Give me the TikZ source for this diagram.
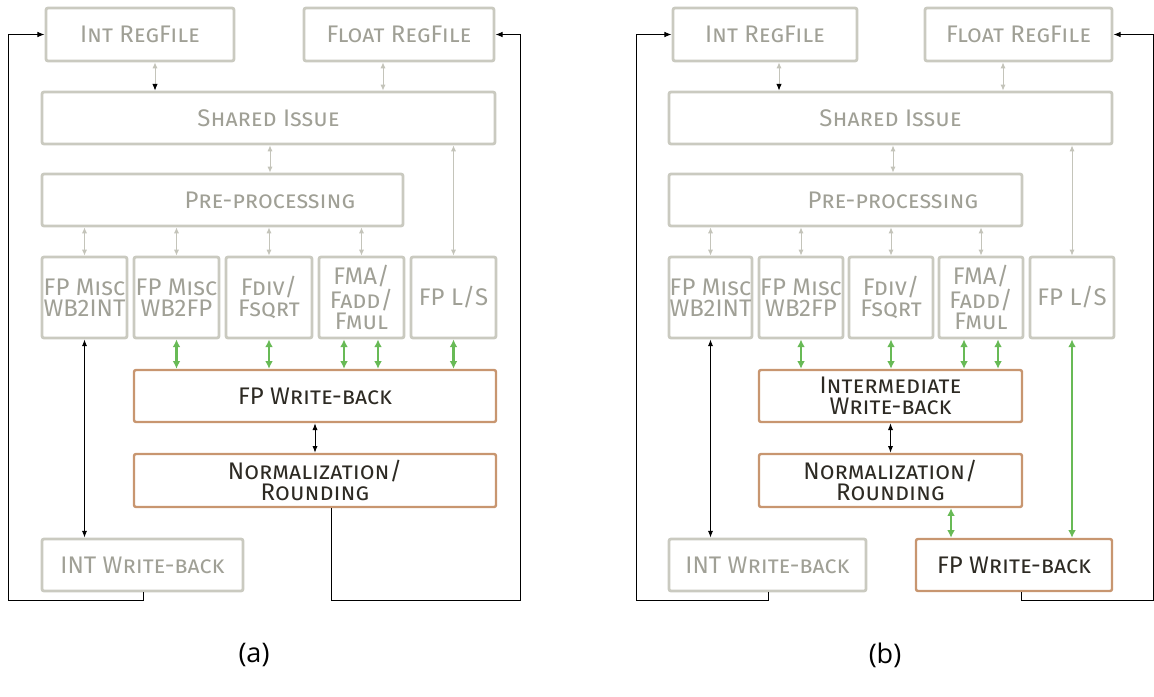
\documentclass[tikz,border=0pt]{standalone}
\usepackage{fontspec}
\setmainfont{Fira Sans}
\newfontfamily\capfont{Open Sans}
\usetikzlibrary{arrows.meta}

\definecolor{boxgray}{RGB}{202,202,192}
\definecolor{txtgray}{RGB}{160,160,150}
\definecolor{arrgray}{RGB}{196,196,186}
\definecolor{wbbrown}{RGB}{200,150,112}
\definecolor{txtdark}{RGB}{45,42,35}
\definecolor{wbgreen}{RGB}{104,186,86}

\tikzset{
  unitfont/.style={font=\fontsize{12}{10.3}\selectfont\scshape},
  gbox/.style={draw=boxgray, line width=1.4pt, rounded corners=1pt, inner sep=0pt,
    align=center, text=txtgray, unitfont},
  wbox/.style={draw=wbbrown, line width=1.2pt, rounded corners=1pt, inner sep=0pt,
    align=center, text=txtdark, unitfont},
  gtext/.style={text=txtgray, unitfont, inner sep=0pt},
  garr/.style={draw=arrgray, line width=0.5pt, {Latex[length=3pt,width=2.6pt]}-{Latex[length=3pt,width=2.6pt]}},
  karr/.style={draw=black, line width=0.5pt, {Latex[length=3.4pt,width=2.6pt]}-{Latex[length=3.4pt,width=2.6pt]}},
  grarr/.style={draw=wbgreen, line width=1.1pt, {Latex[length=3.8pt,width=3.8pt]}-{Latex[length=3.8pt,width=3.8pt]}},
  loopline/.style={draw=black, line width=0.5pt, -{Latex[length=3.6pt,width=2.8pt]}},
  caption/.style={font=\capfont\fontsize{13.5}{15}\selectfont, inner sep=0pt}
}

% \mkbox[extra]{style}{name}{x1}{y1}{x2}{y2}{text}  (pixel units, y downwards)
\newcommand\mkbox[8][]{%
  \node[#2,#1,minimum width={(#6-#4)*0.5pt},minimum height={(#7-#5)*0.5pt}]
    (#3) at ({(#4+#6)/2},{(#5+#7)/2}) {#8};}

\begin{document}
\begin{tikzpicture}[x=0.5pt,y=-0.5pt]
\useasboundingbox (0,0) rectangle (1154,696);

% ---------------- (a) ----------------
\mkbox{gbox}{irA}{46}{8}{234}{61}{Int RegFile}
\mkbox{gbox}{frA}{304}{8}{494}{61}{Float RegFile}
\mkbox{gbox}{siA}{42}{92}{495}{144}{Shared Issue}
\mkbox{gbox}{ppA}{42}{174}{403}{226}{}
\node[gtext] (ppAt) at (270,200) {Pre-processing};
\mkbox{gbox}{uaA}{42}{257}{127}{338}{FP Misc\\WB2INT}
\mkbox{gbox}{ubA}{134}{257}{219}{338}{FP Misc\\WB2FP}
\mkbox{gbox}{ucA}{226}{257}{312}{338}{Fdiv/\\Fsqrt}
\mkbox{gbox}{udA}{319}{257}{404}{338}{FMA/\\Fadd/\\Fmul}
\mkbox{gbox}{ueA}{411}{257}{496}{338}{FP L/S}
\mkbox{wbox}{fwA}{134}{370}{496}{422}{FP Write-back}
\mkbox{wbox}{nrA}{134}{454}{496}{507}{Normalization/\\Rounding}
\mkbox{gbox}{iwA}{42}{539}{243}{591}{INT Write-back}

\coordinate (xA1) at (155,0);
\coordinate (xA2) at (383,0);
\coordinate (xA3) at (270,0);
\coordinate (xA4) at (344,0);
\coordinate (xA5) at (378,0);
\coordinate (xA6) at (143,0);
\coordinate (xA7) at (331,0);
\coordinate (cA1) at (8,600);
\coordinate (cA2) at (520,600);

\draw[garr, {Latex[length=3pt,width=2.6pt]}-{Latex[length=3.4pt,width=2.8pt,color=black]}]
  (irA.south -| xA1) -- (siA.north -| xA1);
\draw[garr] (frA.south -| xA2) -- (siA.north -| xA2);
\draw[garr] (siA.south -| xA3) -- (ppA.north -| xA3);
\draw[garr] (siA.south -| ueA) -- (ueA.north);
\foreach \u in {uaA,ubA,ucA,udA} \draw[garr] (ppA.south -| \u) -- (\u.north);

\draw[grarr] (ubA.south) -- (fwA.north -| ubA);
\draw[grarr] (ucA.south) -- (fwA.north -| ucA);
\draw[grarr] (udA.south -| xA4) -- (fwA.north -| xA4);
\draw[grarr] (udA.south -| xA5) -- (fwA.north -| xA5);
\draw[grarr] (ueA.south) -- (fwA.north -| ueA);

\draw[karr] (fwA.south) -- (nrA.north);
\draw[karr] (uaA.south) -- (iwA.north -| uaA);

\draw[loopline] (iwA.south -| xA6) |- (cA1) |- (irA.west);
\draw[loopline] (nrA.south -| xA7) |- (cA2) |- (frA.east);

\node[caption] (capA) at (254,655) {(a)};

% ---------------- (b) ----------------
\mkbox{gbox}{irB}{673}{8}{857}{61}{Int RegFile}
\mkbox{gbox}{frB}{925}{8}{1112}{61}{Float RegFile}
\mkbox{gbox}{siB}{669}{92}{1112}{144}{Shared Issue}
\mkbox{gbox}{ppB}{669}{174}{1022}{226}{}
\node[gtext] (ppBt) at (893,200) {Pre-processing};
\mkbox{gbox}{uaB}{669}{257}{752}{338}{FP Misc\\WB2INT}
\mkbox{gbox}{ubB}{759}{257}{843}{338}{FP Misc\\WB2FP}
\mkbox{gbox}{ucB}{849}{257}{933}{338}{Fdiv/\\Fsqrt}
\mkbox{gbox}{udB}{939}{257}{1023}{338}{FMA/\\Fadd/\\Fmul}
\mkbox{gbox}{ueB}{1030}{257}{1114}{338}{FP L/S}
\mkbox{wbox}{imB}{759}{370}{1022}{422}{Intermediate\\Write-back}
\mkbox{wbox}{nrB}{759}{454}{1022}{507}{Normalization/\\Rounding}
\mkbox{gbox}{iwB}{669}{539}{866}{591}{INT Write-back}
\mkbox{wbox}{fwB}{916}{539}{1112}{591}{FP Write-back}

\coordinate (xB1) at (779,0);
\coordinate (xB2) at (1003,0);
\coordinate (xB3) at (893,0);
\coordinate (xB4) at (964,0);
\coordinate (xB5) at (998,0);
\coordinate (xB6) at (768,0);
\coordinate (xB7) at (1021,0);
\coordinate (xB8) at (951,0);
\coordinate (cB1) at (636,600);
\coordinate (cB2) at (1153.5,600);

\draw[garr, {Latex[length=3pt,width=2.6pt]}-{Latex[length=3.4pt,width=2.8pt,color=black]}]
  (irB.south -| xB1) -- (siB.north -| xB1);
\draw[garr] (frB.south -| xB2) -- (siB.north -| xB2);
\draw[garr] (siB.south -| xB3) -- (ppB.north -| xB3);
\draw[garr] (siB.south -| ueB) -- (ueB.north);
\foreach \u in {uaB,ubB,ucB,udB} \draw[garr] (ppB.south -| \u) -- (\u.north);

\draw[grarr] (ubB.south) -- (imB.north -| ubB);
\draw[grarr] (ucB.south) -- (imB.north -| ucB);
\draw[grarr] (udB.south -| xB4) -- (imB.north -| xB4);
\draw[grarr] (udB.south -| xB5) -- (imB.north -| xB5);
\draw[grarr] (ueB.south) -- (fwB.north -| ueB);
\draw[grarr] (nrB.south -| xB8) -- (fwB.north -| xB8);

\draw[karr] (imB.south) -- (nrB.north);
\draw[karr] (uaB.south) -- (iwB.north -| uaB);

\draw[loopline] (iwB.south -| xB6) |- (cB1) |- (irB.west);
\draw[loopline] (fwB.south -| xB7) |- (cB2) |- (frB.east);

\node[caption] (capB) at (885,655) {(b)};
\end{tikzpicture}
\end{document}
